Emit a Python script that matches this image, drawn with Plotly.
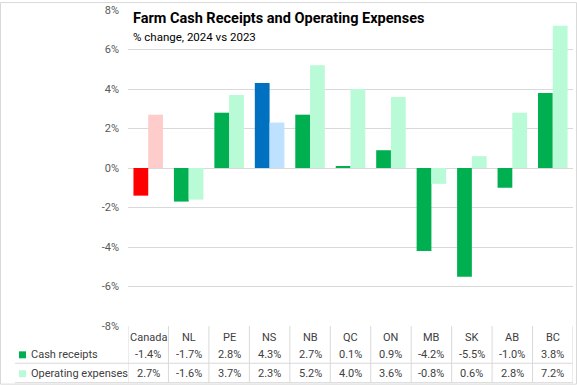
import plotly.graph_objects as go

categories = ["Canada", "NL", "PE", "NS", "NB", "QC", "ON", "MB", "SK", "AB", "BC"]
cash_receipts = [-1.4, -1.7, 2.8, 4.3, 2.7, 0.1, 0.9, -4.2, -5.5, -1.0, 3.8]
operating_expenses = [2.7, -1.6, 3.7, 2.3, 5.2, 4.0, 3.6, -0.8, 0.6, 2.8, 7.2]
series_names = ["Cash receipts", "Operating expenses"]
y_ticks = [-8, -6, -4, -2, 0, 2, 4, 6, 8]

GREEN, LGREEN = "#00B050", "#B9FAD7"
RED, PINK = "#FF0000", "#FFCCCC"
BLUE, LBLUE = "#0070C0", "#BDE1FF"

def colors(base, canada, ns):
    c = [base] * len(categories)
    c[categories.index("Canada")] = canada
    c[categories.index("NS")] = ns
    return c

W, H = 577, 385
L, R, T, B = 128, 4, 8, 59
ph = H - T - B

def py(pix):  # pixel y -> paper y
    return (H - B - pix) / ph

def px(pix):
    return (pix - L) / (W - L - R)

fig = go.Figure()
fig.add_bar(x=categories, y=cash_receipts, name=series_names[0],
            marker=dict(color=colors(GREEN, RED, BLUE), line_width=0))
fig.add_bar(x=categories, y=operating_expenses, name=series_names[1],
            marker=dict(color=colors(LGREEN, PINK, LBLUE), line_width=0))

font = "Roboto, sans-serif"
txt = "#404040"
grid = "#D9D9D9"

fig.update_layout(
    width=W, height=H, margin=dict(l=L, r=R, t=T, b=B),
    paper_bgcolor="white", plot_bgcolor="white",
    barmode="group", bargap=0.27, bargroupgap=0,
    showlegend=False,
    font=dict(family=font, size=11, color=txt),
)
fig.update_xaxes(showticklabels=False, showgrid=False, zeroline=False,
                 range=[-0.5, len(categories) - 0.5])
fig.update_yaxes(range=[-8, 8], tickvals=y_ticks,
                 ticktext=[f"{v}%" for v in y_ticks],
                 showgrid=True, gridcolor=grid, gridwidth=1,
                 zeroline=True, zerolinecolor=grid, zerolinewidth=1,
                 tickfont=dict(size=11, color="#595959"), ticklabelstandoff=8)

ann = []
ann.append(dict(text="<b>Farm Cash Receipts and Operating Expenses</b>", xref="paper", yref="paper",
                x=px(131), y=py(17), xanchor="left", yanchor="middle", showarrow=False,
                font=dict(size=14.5, color="#000000", family=font)))
ann.append(dict(text="% change, 2024 vs 2023", xref="paper", yref="paper",
                x=px(131), y=py(35), xanchor="left", yanchor="middle", showarrow=False,
                font=dict(size=11.5, color="#000000", family=font)))

row_y = [py(338), py(355), py(374)]
for i, c in enumerate(categories):
    ann.append(dict(text=c, xref="x", yref="paper", x=i, y=row_y[0], showarrow=False,
                    yanchor="middle", font=dict(size=11, color=txt)))
    ann.append(dict(text=f"{cash_receipts[i]:.1f}%", xref="x", yref="paper", x=i, y=row_y[1],
                    showarrow=False, yanchor="middle", font=dict(size=11, color=txt)))
    ann.append(dict(text=f"{operating_expenses[i]:.1f}%", xref="x", yref="paper", x=i, y=row_y[2],
                    showarrow=False, yanchor="middle", font=dict(size=11, color=txt)))
for k, name in enumerate(series_names):
    ann.append(dict(text=name, xref="paper", yref="paper", x=px(29), y=row_y[k + 1],
                    xanchor="left", yanchor="middle", showarrow=False,
                    font=dict(size=11, color=txt)))

shapes = []
sq = [GREEN, LGREEN]
for k in range(2):
    cy = [355, 374][k]
    shapes.append(dict(type="rect", xref="paper", yref="paper",
                       x0=px(19), x1=px(26), y0=py(cy + 3.5), y1=py(cy - 3.5),
                       fillcolor=sq[k], line_width=0))
# table vertical lines
for i in range(len(categories) + 1):
    shapes.append(dict(type="line", xref="x", yref="paper", x0=i - 0.5, x1=i - 0.5,
                       y0=py(326), y1=py(383), line=dict(color=grid, width=1)))
# table horizontal lines
for yy in [363.5, 383]:
    shapes.append(dict(type="line", xref="paper", yref="paper", x0=px(15), x1=1,
                       y0=py(yy), y1=py(yy), line=dict(color=grid, width=1)))
# chart border
shapes.append(dict(type="rect", xref="paper", yref="paper", x0=px(0.5), x1=px(W - 0.5),
                   y0=py(H - 0.5), y1=py(0.5), line=dict(color=grid, width=1)))

fig.update_layout(annotations=ann, shapes=shapes)
fig.write_html("out.html", config={"displayModeBar": False},
               post_script="document.body.style.margin='0';document.body.style.overflow='hidden';")
